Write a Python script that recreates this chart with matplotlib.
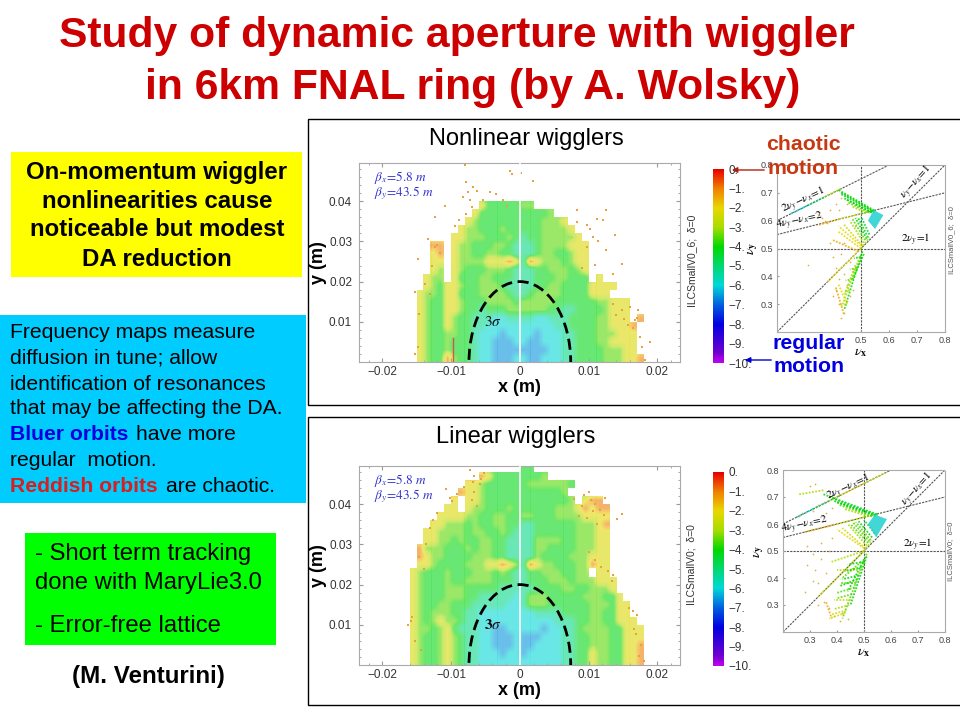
import numpy as np
import matplotlib
matplotlib.use('Agg')
import matplotlib.pyplot as plt
from matplotlib.colors import LinearSegmentedColormap, Normalize
from matplotlib.cm import ScalarMappable
from matplotlib.collections import LineCollection
from matplotlib.patches import Ellipse, Rectangle

plt.rcParams['font.family'] = ['Liberation Sans', 'DejaVu Sans']
plt.rcParams['mathtext.fontset'] = 'stix'

W, H = 960, 720

# diffusion maps, read by eye: one row per 2 mm in y (top row first), one char per 1 mm in x
# left half + right half of the row, digit = colour class, '.' = no surviving particle
top_map = [
    "..................." "...................",
    "..................." "...................",
    "..................." "...................",
    "..................." "...................",
    "..................." "...................",
    ".............244444" "33.................",
    "............2444444" "44443..............",
    "...........23444444" "4443332............",
    "..........233444344" "44433332...........",
    ".........2233344434" "544333332..........",
    "......11.2334443345" "5543333222.........",
    "......21.2334433445" "5543344322.........",
    "......22.2333322212" "5123334322.........",
    "......23.2344433345" "5544333432.........",
    ".....233.2444334445" "5544433444.2.......",
    ".....23422344333455" "55443344442222.....",
    "....233422444333345" "5433334444222......",
    "....234422344433334" "3333344444433222...",
    "....234422344544433" "3333445544443222...",
    "....234423445556655" "5566555444433222.1.",
    "....234423445566666" "66666554444332221..",
    "....234433445666766" "66766655444333222..",
    "....234434445667776" "67766655444332222..",
    "....234434445667777" "77776655444433322..",
    "....234413445667776" "677666554444333221.",
]
bot_map = [
    "..................." "44.................",
    ".............124444" "4443...............",
    "...........22344444" "43333334...........",
    "..........122344444" "4444443............",
    ".........2.22344444" "44444443.211.......",
    "........22.23344434" "4444433321211......",
    ".......222233443344" "3344433332222......",
    "......2233343443344" "5544444433321......",
    ".....22333343344345" "5544444433322......",
    ".....22334344334455" "5533334433322......",
    "....133344434334455" "5533444433322......",
    "....123344443334455" "5534444333222......",
    "....223444433322123" "5123344433122......",
    "...2344434443334345" "5443334433.22......",
    "...2344434433334445" "54443334333222.....",
    "...2344433344444555" "55444433443332.....",
    "...2344433344555556" "533344444333442....",
    "...2344334445555566" "5333444444333422...",
    "...2343334455666666" "6655554444334422...",
    "...2343233455666666" "66666555443344222..",
    "...2334324555667766" "666766554333344222.",
    "...2344323455667776" "777666554433344222.",
    "...2344323455667776" "776666554433344221.",
    "...2344323455666766" "766666554423344221.",
    "...2344323455666666" "666666554423344221.",
]
# colour value of each class digit, index = digit
class_values = [0, -1.0, -2.2, -3.5, -4.2, -5.2, -6.0, -6.6]

# scattered chaotic particles at the aperture edge, in mm
top_edge_x = [-8.0, -1.5, -1.2, 0.2, 1.9, -7.8, -6.8, -7.5, -8.3, -6.3, -4.4, -3.4, -10.9, -12.4, -13.3, -12.4, -14.8,
              -15.3, 8.3, 12.6, 11.2, 12.1, 10.2, 11.4, 13.8, 12.6, 14.8, 13.6, 9.7, 8.3, -7.8, -5.3, -2.4, -1.9, 9.7,
              10.7, 18.9, 18.2, 17.8, 17.2, 16.0, 14.8, 13.6, 16.7, 17.5, -14.8, -15.3, -14.6, -13.1, -13.8, -9.5,
              -8.9, -7.2, -7.0, 14.0, 15.2, 15.8, 16.4, 17.0, 9.0, 10.9, -11.6, -12.0, -12.8]
top_edge_y = [49.0, 47.6, 46.8, 46.9, 45.1, 44.7, 43.5, 42.2, 41.0, 42.6, 42.2, 41.8, 38.9, 36.0, 30.7, 28.6, 25.7,
              17.4, 37.7, 37.7, 35.6, 35.2, 33.1, 30.2, 31.5, 27.8, 24.5, 22.0, 28.6, 34.8, 36.9, 40.2, 40.2, 38.9, 34.0,
              31.0, 5.0, 0.5, 3.8, 12.9, 13.7, 12.9, 14.5, 10.4, 6.3, 3.8, 2.1, 12.0, 17.0, 19.5, 33.8,
              35.2, 40.4, 38.6, 11.6, 10.8, 9.2, 8.4, 11.0, 23.5, 24.2, 27.2, 29.0, 24.0]
bot_edge_x = [-7.2, -6.6, -6.8, -5.8, -5.2, -8.1, -9.2, -9.8, -10.2, -7.0, -6.2, -6.6, -5.6, -12.6, -13.0, -12.0, -13.6,
              -15.8, -16.2, -15.7, 9.4, 10.0, 10.4, 11.0, 11.6, 12.2, 12.4, 9.0, 8.6, 9.8, 10.6, 11.2, 14.1, 14.8, 7.9,
              16.6, 17.0, 17.6, 17.4, 18.0, 15.9, 16.4, 13.5, -14.4, -14.0, -10.8, 10.0, 10.9, 11.8, 12.8, 13.4, 16.9,
              -15.2, -14.6]
bot_edge_y = [48.5, 47.0, 45.5, 45.0, 47.8, 44.2, 42.6, 40.8, 41.6, 41.0, 39.5, 43.0, 46.2, 36.0, 34.0, 37.8, 30.0,
              11.0, 10.0, 12.0, 42.4, 43.0, 41.0, 40.0, 38.6, 37.4, 41.6, 39.6, 37.0, 36.6, 38.2, 35.0, 36.4, 37.6, 41.2,
              9.0, 12.4, 5.0, 2.2, 1.0, 14.2, 13.4, 22.4, 3.8, 24.0, 43.8, 28.0, 26.2, 24.4, 23.4, 21.0, 7.6,
              6.0, 26.8]

# tune footprint streaks: (nux0, nuy0, nux1, nuy1, colour value)
top_streaks = [
    (0.25, 0.625, 0.31, 0.655, 6), (0.31, 0.655, 0.37, 0.685, 5), (0.37, 0.685, 0.43, 0.715, 3),
    (0.35, 0.585, 0.42, 0.605, 1.5), (0.42, 0.605, 0.50, 0.625, 2.5), (0.50, 0.625, 0.55, 0.637, 3.5),
    (0.38, 0.38, 0.50, 0.50, 2), (0.50, 0.50, 0.53, 0.54, 3),
    (0.42, 0.71, 0.55, 0.635, 4), (0.43, 0.70, 0.55, 0.632, 4), (0.43, 0.695, 0.55, 0.63, 4), (0.44, 0.68, 0.54, 0.628, 4),
    (0.45, 0.675, 0.54, 0.63, 4), (0.455, 0.665, 0.53, 0.628, 3.5), (0.47, 0.65, 0.52, 0.628, 3),
    (0.51, 0.52, 0.46, 0.60, 3), (0.52, 0.535, 0.48, 0.61, 4), (0.53, 0.55, 0.50, 0.615, 4.5),
    (0.525, 0.54, 0.49, 0.61, 4), (0.515, 0.53, 0.47, 0.605, 3.5),
    (0.505, 0.51, 0.44, 0.585, 2.5), (0.50, 0.51, 0.42, 0.58, 2),
    (0.505, 0.49, 0.44, 0.28, 4), (0.495, 0.47, 0.435, 0.30, 3), (0.51, 0.48, 0.47, 0.39, 4),
    (0.48, 0.44, 0.44, 0.33, 3), (0.42, 0.37, 0.45, 0.30, 2), (0.41, 0.36, 0.44, 0.26, 1.5),
    (0.42, 0.56, 0.50, 0.50, 2), (0.40, 0.53, 0.49, 0.49, 1.5),
    (0.50, 0.47, 0.475, 0.465, 4), (0.485, 0.43, 0.46, 0.425, 3.5), (0.47, 0.39, 0.445, 0.385, 3.5),
    (0.46, 0.35, 0.44, 0.345, 3), (0.445, 0.30, 0.425, 0.295, 2.5),
]
top_blob_x = [0.545, 0.58, 0.55, 0.525]
top_blob_y = [0.638, 0.62, 0.57, 0.60]
top_tune_x = [0.36, 0.37, 0.39, 0.41, 0.43, 0.42, 0.45, 0.38, 0.40, 0.41, 0.42, 0.44, 0.46, 0.45, 0.47, 0.35, 0.31, 0.39,
              0.44, 0.48, 0.43, 0.41, 0.40, 0.42, 0.46, 0.44, 0.43, 0.45, 0.47]
top_tune_y = [0.61, 0.60, 0.64, 0.66, 0.68, 0.64, 0.66, 0.59, 0.47, 0.43, 0.39, 0.41, 0.45, 0.37, 0.35, 0.62, 0.44, 0.52,
              0.52, 0.58, 0.48, 0.35, 0.33, 0.30, 0.33, 0.27, 0.25, 0.31, 0.42]
bot_streaks = [
    (0.25, 0.625, 0.31, 0.655, 6), (0.31, 0.655, 0.37, 0.685, 5), (0.37, 0.685, 0.43, 0.715, 2.5),
    (0.43, 0.715, 0.50, 0.75, 2), (0.50, 0.75, 0.58, 0.79, 2.5),
    (0.26, 0.71, 0.35, 0.725, 3),
    (0.28, 0.57, 0.40, 0.60, 1.5), (0.40, 0.60, 0.50, 0.625, 2.5), (0.50, 0.625, 0.55, 0.637, 3.5),
    (0.33, 0.33, 0.50, 0.50, 2.5), (0.50, 0.50, 0.53, 0.54, 3),
    (0.35, 0.71, 0.55, 0.635, 4), (0.37, 0.70, 0.55, 0.63, 4.5), (0.39, 0.685, 0.54, 0.628, 4),
    (0.40, 0.68, 0.55, 0.632, 4), (0.41, 0.67, 0.53, 0.628, 3.5), (0.43, 0.655, 0.52, 0.628, 3),
    (0.51, 0.52, 0.44, 0.60, 3), (0.52, 0.535, 0.46, 0.605, 3.5), (0.53, 0.55, 0.48, 0.61, 4), (0.54, 0.565, 0.50, 0.615, 4.5),
    (0.525, 0.54, 0.47, 0.607, 3.5), (0.515, 0.53, 0.45, 0.60, 3.5),
    (0.505, 0.51, 0.42, 0.585, 2.5), (0.50, 0.51, 0.40, 0.58, 2),
    (0.51, 0.49, 0.42, 0.25, 3.5), (0.50, 0.47, 0.44, 0.35, 4), (0.51, 0.48, 0.45, 0.30, 4), (0.49, 0.46, 0.42, 0.40, 3.5),
    (0.50, 0.50, 0.38, 0.46, 3), (0.49, 0.43, 0.40, 0.43, 3), (0.47, 0.38, 0.41, 0.38, 3.5), (0.45, 0.32, 0.39, 0.32, 2.5),
    (0.43, 0.27, 0.37, 0.25, 2), (0.36, 0.31, 0.38, 0.25, 1.5),
    (0.50, 0.46, 0.44, 0.45, 4), (0.49, 0.44, 0.43, 0.425, 4), (0.48, 0.41, 0.42, 0.395, 4), (0.475, 0.395, 0.41, 0.37, 4),
    (0.465, 0.365, 0.40, 0.345, 3.5), (0.455, 0.34, 0.40, 0.325, 3.5), (0.445, 0.30, 0.39, 0.285, 3), (0.435, 0.28, 0.38, 0.265, 2.5),
]
bot_blob_x = [0.54, 0.585, 0.545, 0.515]
bot_blob_y = [0.635, 0.618, 0.55, 0.60]
bot_tune_x = [0.27, 0.26, 0.31, 0.33, 0.30, 0.32, 0.35, 0.36, 0.38, 0.29, 0.31, 0.34, 0.37, 0.28, 0.32, 0.36, 0.33, 0.35,
              0.37, 0.39, 0.41, 0.29, 0.34, 0.38, 0.31, 0.33, 0.42, 0.44]
bot_tune_y = [0.64, 0.63, 0.65, 0.67, 0.74, 0.75, 0.68, 0.64, 0.66, 0.52, 0.49, 0.47, 0.50, 0.35, 0.43, 0.42, 0.38, 0.31,
              0.29, 0.26, 0.24, 0.45, 0.53, 0.55, 0.39, 0.30, 0.27, 0.25]

# resonance lines in tune space
res_x = [[0.2, 0.6], [0.2, 0.8], [0.2, 0.8], [0.5, 0.5], [0.2, 0.8]]
res_y = [[0.6, 0.8], [0.55, 0.7], [0.5, 0.5], [0.2, 0.8], [0.2, 0.8]]

map_x_ticks = [-0.02, -0.01, 0, 0.01, 0.02]
map_x_labels = ['\u22120.02', '\u22120.01', '0', '0.01', '0.02']
map_y_ticks = [0.01, 0.02, 0.03, 0.04]
cbar_ticks = [0, -1, -2, -3, -4, -5, -6, -7, -8, -9, -10]
cbar_labels = ['0.'] + ['\u2212%d.' % i for i in range(1, 11)]

diff_cmap = LinearSegmentedColormap.from_list('diff', [
    (0.0, '#c000f0'), (0.05, '#7000d0'), (0.2, '#0000e0'), (0.3, '#0060e0'), (0.4, '#00d8d8'),
    (0.5, '#00d870'), (0.6, '#00d800'), (0.7, '#a8dc00'), (0.8, '#e8d800'), (0.9, '#f08000'), (1.0, '#e80000')])
norm = Normalize(-10, 0)


def px_axes(left, top, right, bottom):
    return fig.add_axes([left / W, 1 - bottom / H, (right - left) / W, (bottom - top) / H])


def parse_map(rows):
    out = [[np.nan if c == '.' else class_values[int(c)] for c in r] for r in rows]
    return np.array(out)


def draw_map(ax, rows, edge_x, edge_y, tag):
    vals = parse_map(rows)
    holes = np.isnan(vals)
    # fill the holes along each row so the smoothing has no dark fringe, white mask goes on top
    filled = vals.copy()
    idx = np.arange(vals.shape[1])
    for i in range(vals.shape[0]):
        good = ~holes[i]
        filled[i] = np.interp(idx, idx[good], vals[i][good]) if good.any() else -4
    ext = [-0.019, 0.019, 0, 0.05]
    ax.imshow(filled, extent=ext, cmap=diff_cmap, norm=norm, aspect='auto', interpolation='bilinear', alpha=0.66, zorder=1)
    ax.vlines(np.arange(-0.019, 0.019, 0.0003), 0, 0.05, color='white', lw=0.35, alpha=0.45, zorder=2)
    mask = np.zeros(holes.shape + (4,))
    mask[holes] = [1, 1, 1, 1]
    ax.imshow(mask, extent=ext, aspect='auto', interpolation='nearest', zorder=2.5)
    ax.scatter(np.array(edge_x) / 1000, np.array(edge_y) / 1000, s=2.5, marker='s', color='#e8a040', lw=0, zorder=3)
    ax.axvline(0, color='white', lw=1.2, zorder=3)
    ax.add_patch(Ellipse((0, 0), 0.0148, 0.04, fill=False, ec='black', lw=2, ls=(0, (4, 2)), zorder=4))
    ax.set_xlim(-0.0234, 0.0233)
    ax.set_ylim(0, 0.0495)
    ax.set_xticks(map_x_ticks)
    ax.set_xticklabels(map_x_labels)
    ax.set_yticks(map_y_ticks)
    ax.set_yticklabels(['0.01', '0.02', '0.03', '0.04'])
    ax.minorticks_on()
    ax.tick_params(which='both', direction='in', color='#999999', labelsize=8.5, labelcolor='#333333', pad=5, top=True, right=True)
    ax.tick_params(axis='x', which='both', pad=3)
    ax.tick_params(which='major', length=3)
    ax.tick_params(which='minor', length=1.5)
    for s in ax.spines.values():
        s.set_color('#aaaaaa')
    ax.set_xlabel('x (m)', fontsize=13, fontweight='bold', labelpad=0.5)
    ax.set_ylabel('y (m)', fontsize=13, fontweight='bold')
    ax.yaxis.set_label_coords(-0.10, 0.5)
    ax.text(-0.0212, 0.0458, r'$\beta_x\!=\!5.8\ m$', color='#3030d0', fontsize=9.5, va='center', zorder=5)
    ax.text(-0.0212, 0.0419, r'$\beta_y\!=\!43.5\ m$', color='#3030d0', fontsize=9.5, va='center', zorder=5)
    ax.text(-0.0052, 0.0100, tag, fontsize=11, color='#101010', va='center', zorder=5)


def draw_tune(ax, streaks, blob_x, blob_y, tune_x, tune_y, labels, pos):
    for x, y in zip(res_x, res_y):
        ax.plot(x, y, color='#555555', lw=0.8, ls=(0, (2, 1)), zorder=1)
    segs = [[(s[0], s[1]), (s[2], s[3])] for s in streaks]
    cols = [diff_cmap(norm(-s[4])) for s in streaks]
    ax.add_collection(LineCollection(segs, colors=cols, linewidths=1.3, linestyles=[(0, (1, 0.8))], alpha=0.85, zorder=2))
    ax.fill(blob_x, blob_y, color='#20d0d0', alpha=0.85, lw=0, zorder=2)
    ax.scatter(tune_x, tune_y, s=1.5, color='#e0b040', lw=0, zorder=2)
    ax.set_xlim(0.2, 0.8)
    ax.set_ylim(0.2, 0.8)
    ax.set_xticks(labels)
    ax.set_yticks([0.3, 0.4, 0.5, 0.6, 0.7, 0.8])
    ax.tick_params(direction='in', length=1.5, color='#999999', labelsize=6.5, labelcolor='#444444', pad=3)
    for s in ax.spines.values():
        s.set_color('#aaaaaa')
        s.set_linestyle((0, (1, 1)))
    ax.set_xlabel(r'$\nu_{\mathbf{x}}$', fontsize=10, labelpad=0)
    ax.set_ylabel(r'$\nu_{\mathbf{y}}$', fontsize=10, labelpad=0)
    ax.text(pos[0][0], pos[0][1], r'$\nu_y\!-\!\nu_x\!=\!1$', fontsize=8, rotation=48, ha='center', va='center')
    ax.text(pos[1][0], pos[1][1], r'$2\nu_y\!-\!\nu_x\!=\!1$', fontsize=8, rotation=25, ha='center', va='center')
    ax.text(pos[2][0], pos[2][1], r'$4\nu_y\!-\!\nu_x\!=\!2$', fontsize=8, rotation=12, ha='center', va='center')
    ax.text(pos[3][0], pos[3][1], r'$2\nu_y\!=\!1$', fontsize=8, ha='center', va='center')


def draw_cbar(ax):
    cb = fig.colorbar(ScalarMappable(norm=norm, cmap=diff_cmap), cax=ax)
    cb.set_ticks(cbar_ticks)
    cb.set_ticklabels(cbar_labels)
    cb.ax.tick_params(length=0, labelsize=8.5, pad=3, labelcolor='#333333')
    cb.outline.set_visible(False)
    return cb


fig = plt.figure(figsize=(W / 100, H / 100), dpi=100, facecolor='white')

# slide layer in pixel coordinates
bg = fig.add_axes([0, 0, 1, 1], zorder=0)
bg.set_xlim(0, W)
bg.set_ylim(H, 0)
bg.axis('off')
bg.add_patch(Rectangle((308, 119), 660, 286, fc='white', ec='black', lw=1))
bg.add_patch(Rectangle((308, 417), 660, 288, fc='white', ec='black', lw=1))
bg.add_patch(Rectangle((11, 152), 291, 125, fc='#ffff00', ec='none'))
bg.add_patch(Rectangle((0, 315), 306, 188, fc='#00ccff', ec='none'))
bg.add_patch(Rectangle((25, 533), 251, 112, fc='#00ff00', ec='none'))

red = '#cc0000'
bg.text(457, 36, 'Study of dynamic aperture with wiggler', color=red, fontsize=30.7, fontweight='bold', ha='center', va='center')
bg.text(473, 88, 'in 6km FNAL ring (by A. Wolsky)', color=red, fontsize=30.7, fontweight='bold', ha='center', va='center')

yellow_lines = ['On-momentum wiggler', 'nonlinearities cause', 'noticeable but modest', 'DA reduction']
for y, s in zip([172, 201, 230, 259], yellow_lines):
    bg.text(157, y, s, fontsize=17.3, fontweight='bold', ha='center', va='center', color='black')

blue_lines = ['Frequency maps measure', 'diffusion in tune; allow', 'identification of resonances',
              'that may be affecting the DA.']
for y, s in zip([333, 358, 384, 409], blue_lines):
    bg.text(10, y, s, fontsize=15.2, ha='left', va='center', color='black')
bg.text(10, 435, 'Bluer orbits', fontsize=15.2, fontweight='bold', color='#0000e0', va='center')
bg.text(136, 435, 'have more', fontsize=15.2, color='black', va='center')
bg.text(10, 460, 'regular  motion.', fontsize=15.2, color='black', va='center')
bg.text(10, 486, 'Reddish orbits', fontsize=15.2, fontweight='bold', color='#d81e1e', va='center')
bg.text(166, 486, 'are chaotic.', fontsize=15.2, color='black', va='center')

for y, s in zip([554, 583, 626], ['- Short term tracking', 'done with MaryLie3.0', '- Error-free lattice']):
    bg.text(35, y, s, fontsize=17.2, color='black', va='center')
bg.text(148, 677, '(M. Venturini)', fontsize=17.4, fontweight='bold', ha='center', va='center')
bg.text(526, 139, 'Nonlinear wigglers', fontsize=17, ha='center', va='center')
bg.text(516, 437, 'Linear wigglers', fontsize=17, ha='center', va='center')

ax1 = px_axes(359, 163, 680, 362)
draw_map(ax1, top_map, top_edge_x, top_edge_y, r'$3\sigma$')
ax2 = px_axes(359, 466, 680, 665)
draw_map(ax2, bot_map, bot_edge_x, bot_edge_y, r'$\mathbf{3}\sigma$')
ax1.plot([-0.0097, -0.0097], [0, 0.006], color='#e05050', lw=1, zorder=3)

cax1 = px_axes(713, 169, 724, 363)
draw_cbar(cax1)
cax2 = px_axes(713, 472, 724, 666)
draw_cbar(cax2)

tn1 = px_axes(777, 165, 945, 332)
draw_tune(tn1, top_streaks, top_blob_x, top_blob_y, top_tune_x, top_tune_y, [0.5, 0.6, 0.7, 0.8],
          [(0.70, 0.738), (0.295, 0.672), (0.28, 0.595), (0.695, 0.53)])
tn2 = px_axes(783, 470, 945, 632)
draw_tune(tn2, bot_streaks, bot_blob_x, bot_blob_y, bot_tune_x, bot_tune_y, [0.3, 0.4, 0.5, 0.6, 0.7, 0.8],
          [(0.70, 0.73), (0.445, 0.735), (0.28, 0.595), (0.70, 0.524)])

# overlay layer
fg = fig.add_axes([0, 0, 1, 1], zorder=10)
fg.set_xlim(0, W)
fg.set_ylim(H, 0)
fg.axis('off')
fg.text(692, 261, 'ILCSmallV0_6;  \u03b4=0', fontsize=7.5, rotation=90, ha='center', va='center', color='#333333')
fg.text(692, 565, 'ILCSmallV0;  \u03b4=0', fontsize=7.5, rotation=90, ha='center', va='center', color='#333333')
fg.text(952, 240, 'ILCSmallV0_6;  \u03b4=0', fontsize=5.5, rotation=90, ha='center', va='center', color='#555555')
fg.text(951, 551, 'ILCSmallV0;  \u03b4=0', fontsize=5.5, rotation=90, ha='center', va='center', color='#555555')

chaos = '#c83810'
fg.text(803, 156.5, 'chaotic\nmotion', color=chaos, fontsize=15.3, fontweight='bold', ha='center', va='center', linespacing=1.3)
fg.text(809, 355, 'regular\nmotion', color='#0000e0', fontsize=15.3, fontweight='bold', ha='center', va='center', linespacing=1.3)
fg.annotate('', xy=(729, 170), xytext=(767, 170), arrowprops=dict(arrowstyle='-|>', color='#b02010', lw=1, mutation_scale=8))
fg.annotate('', xy=(742, 360), xytext=(774, 360), arrowprops=dict(arrowstyle='-|>', color='#0000d0', lw=1, mutation_scale=8))

fig.savefig('out.png', dpi=100)
